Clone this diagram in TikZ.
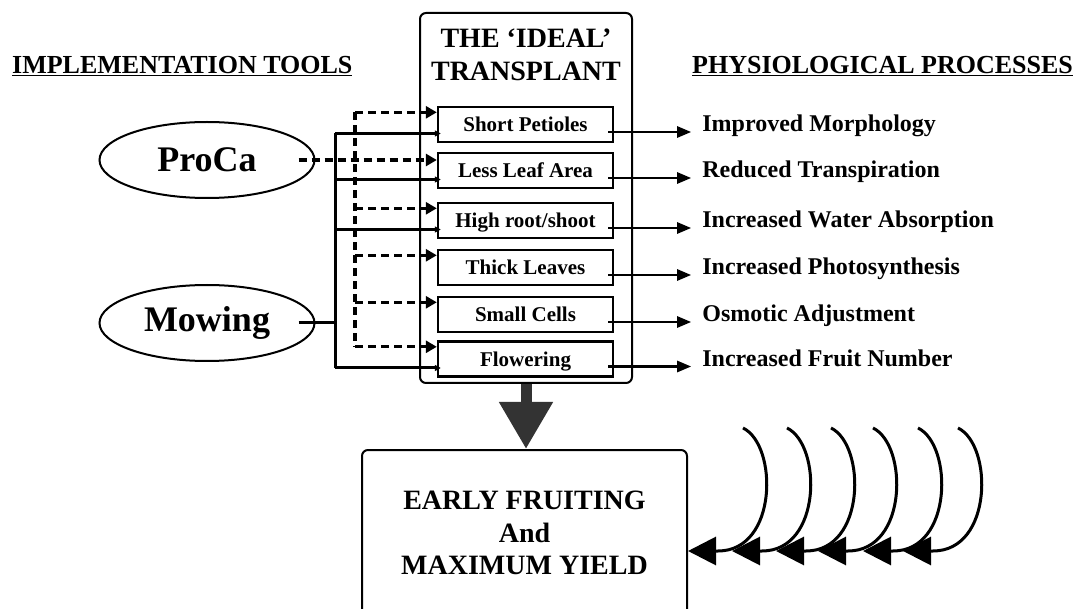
\documentclass[tikz,border=0pt]{standalone}
\usepackage{fontspec}
\setmainfont{Liberation Serif}
\usetikzlibrary{calc,arrows.meta,shapes.geometric}

\tikzset{
  part/.style={draw, line width=2.4pt, minimum width=175pt, minimum height=35pt, inner sep=0pt,
    font=\fontsize{21}{21}\selectfont\bfseries, text height=15pt, text depth=0pt},
  tool/.style={ellipse, draw, line width=2pt, minimum width=215pt, minimum height=76pt, inner sep=0pt,
    font=\fontsize{36}{36}\selectfont\bfseries},
  effect/.style={anchor=base west, inner xsep=11pt, inner ysep=0pt, font=\fontsize{24}{24}\selectfont\bfseries},
  heading/.style={anchor=base west, inner sep=0pt, font=\fontsize{26}{26}\selectfont\bfseries},
  pcline/.style={line width=3.2pt, dash pattern=on 8pt off 5pt},
  pcarrow/.style={pcline, -{Triangle[length=11pt,width=12pt]}},
  mwline/.style={line width=3pt},
  mwarrow/.style={mwline, -{Triangle[length=6pt,width=6pt]}},
  outarrow/.style={line width=2.6pt, -{Triangle[length=14pt,width=11pt]}},
  swirl/.style={line width=3pt, -{Triangle[length=28pt,width=28pt]}}
}

\begin{document}
\begin{tikzpicture}[x=1pt,y=-1pt]
		%%%%% START %%%%%
		\useasboundingbox (0,0) rectangle (1079,609);
		\clip (0,0) rectangle (1079,609);
		
		\node[heading] (tools) at (12,74) {\underline{IMPLEMENTATION TOOLS}};
		\node[heading] (procs) at (692,74) {\underline{PHYSIOLOGICAL PROCESSES}};
		
		\node[draw, line width=2pt, rounded corners=6pt, minimum width=212pt, minimum height=370pt] (ideal) at (526,198) {};
		\node[align=center, inner sep=0pt, font=\fontsize{28}{33}\selectfont\bfseries] (title) at (526,54.5) {THE ‘IDEAL’\\TRANSPLANT};
		
		\node[part] (petioles) at (525.5,124.5) {Short Petioles};
		\node[part] (leafarea) at (525.5,170.5) {Less Leaf Area};
		\node[part] (rootshoot) at (525.5,220.5) {High root/shoot};
		\node[part] (thick) at (525.5,267.5) {Thick Leaves};
		\node[part] (cells) at (525.5,314.5) {Small Cells};
		\node[part] (flowering) at (525.5,359) {Flowering};
		
		\node[tool] (proca) at (207,160) {ProCa};
		\node[tool] (mowing) at (207,323) {Mowing};
		
		\node[effect] (morph) at ($(petioles.east)+(77,7.5)$) {Improved Morphology};
		\node[effect] (transp) at ($(leafarea.east)+(77,7.5)$) {Reduced Transpiration};
		\node[effect] (water) at ($(rootshoot.east)+(77,7.5)$) {Increased Water Absorption};
		\node[effect] (photo) at ($(thick.east)+(77,7.5)$) {Increased Photosynthesis};
		\node[effect] (osmo) at ($(cells.east)+(77,7.5)$) {Osmotic Adjustment};
		\node[effect] (fruit) at ($(flowering.east)+(77,7.5)$) {Increased Fruit Number};
		
		\node[draw, line width=2pt, rounded corners=6pt, minimum width=325pt, minimum height=166pt, align=center,
		  font=\fontsize{28}{32.5}\selectfont\bfseries] (yield) at (524.5,533) {EARLY FRUITING\\And\\MAXIMUM YIELD};
		
		% ProCa
		\coordinate (pbus) at (355,0);
		\draw[pcline] ($(pbus |- petioles.north)+(0,6.5)$) -- ($(pbus |- flowering.north)+(0,6.5)$);
		\draw[pcarrow] ($(proca.east)+(-17,0)$) -- (proca.east -| leafarea.west);
		\foreach \p in {petioles,rootshoot,thick,cells,flowering}
		  \draw[pcarrow] ($(pbus |- \p.north)+(0,6.5)$) -- ($(\p.north west)+(0,6.5)$);
		
		% Mowing
		\coordinate (mbus) at (335,0);
		\draw[mwline] ($(mowing.east)+(-17,0)$) -- (mowing.east -| mbus);
		\draw[mwline] ($(mbus |- petioles.west)+(0,9)$) -- ($(mbus |- flowering.west)+(0,9)$);
		\foreach \p in {petioles,leafarea,rootshoot,flowering}
		  \draw[mwarrow] ($(mbus |- \p.west)+(0,9)$) -- ($(\p.west)+(4,9)$);
		
		% processes
		\draw[outarrow] ($(petioles.east)+(-6,7.5)$) -- (morph.base west);
		\draw[outarrow] ($(leafarea.east)+(-6,7.5)$) -- (transp.base west);
		\draw[outarrow] ($(rootshoot.east)+(-6,7.5)$) -- (water.base west);
		\draw[outarrow] ($(thick.east)+(-6,7.5)$) -- (photo.base west);
		\draw[outarrow] ($(cells.east)+(-6,7.5)$) -- (osmo.base west);
		\draw[outarrow] ($(flowering.east)+(-6,7.5)$) -- (fruit.base west);
		
		\draw[line width=11pt, black!80, -{Triangle[length=47pt,width=51pt]}] (ideal.south) -- (ideal.south |- yield.north);
		
		\draw[swirl] (743,428) .. controls (778,445) and (778,551) .. (718,551) -- (688,551);
		\draw[swirl] (787,428) .. controls (822,445) and (822,551) .. (762,551) -- (732,551);
		\draw[swirl] (831,428) .. controls (866,445) and (866,551) .. (806,551) -- (776,551);
		\draw[swirl] (873,428) .. controls (908,445) and (908,551) .. (848,551) -- (818,551);
		\draw[swirl] (918,428) .. controls (953,445) and (953,551) .. (893,551) -- (863,551);
		\draw[swirl] (958,428) .. controls (993,445) and (993,551) .. (933,551) -- (903,551);
		%%%%% END %%%%%
\end{tikzpicture}
\end{document}
